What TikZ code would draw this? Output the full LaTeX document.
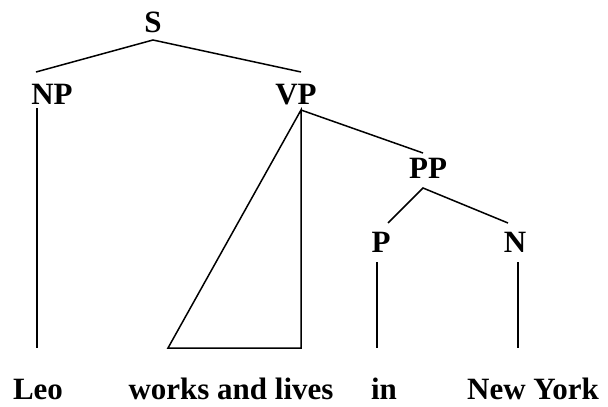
\documentclass[tikz,border=0pt]{standalone}
\usepackage{fontspec}
\setmainfont{Liberation Serif}
\usepackage{tikz}

\begin{document}
\begin{tikzpicture}[x=1pt,y=-1pt,
  cat/.style={font=\fontsize{31}{36}\selectfont\bfseries, anchor=base, inner sep=0pt},
  branch/.style={line width=1.5pt, line join=miter}]

\useasboundingbox (0,0) rectangle (608,407);

% categories and words
\node[cat] (S) at (153,32) {S};
\node[cat] (NP) at (52,104) {NP};
\node[cat] (VP) at (296,104) {VP};
\node[cat] (PP) at (428,178) {PP};
\node[cat] (P) at (381,252) {P};
\node[cat] (N) at (515,252) {N};
\node[cat] (leo) at (38,399) {Leo};
\node[cat] (works) at (231,399) {works and lives};
\node[cat] (in) at (384,399) {in};
\node[cat] (ny) at (533,399) {New York};

% branch ends
\coordinate (S-b) at (153,40);
\coordinate (NP-t) at (36,72);
\coordinate (NP-b) at (37,108);
\coordinate (VP-t) at (301,72);
\coordinate (VP-b) at (301,110);
\coordinate (PP-t) at (423,153);
\coordinate (PP-b) at (423,188);
\coordinate (P-t) at (388,223);
\coordinate (P-b) at (377,262);
\coordinate (N-t) at (508,223);
\coordinate (N-b) at (518,262);
\coordinate (leo-t) at (37,348);
\coordinate (tri-l) at (168,348);
\coordinate (tri-r) at (301,348);
\coordinate (in-t) at (377,348);
\coordinate (ny-t) at (518,348);

\draw[branch] (NP-t) -- (S-b) -- (VP-t);
\draw[branch] (NP-b) -- (leo-t);
\draw[branch] (VP-b) -- (tri-l) -- (tri-r) -- cycle;
\draw[branch] (VP-b) -- (PP-t);
\draw[branch] (P-t) -- (PP-b) -- (N-t);
\draw[branch] (P-b) -- (in-t);
\draw[branch] (N-b) -- (ny-t);

\end{tikzpicture}
\end{document}
